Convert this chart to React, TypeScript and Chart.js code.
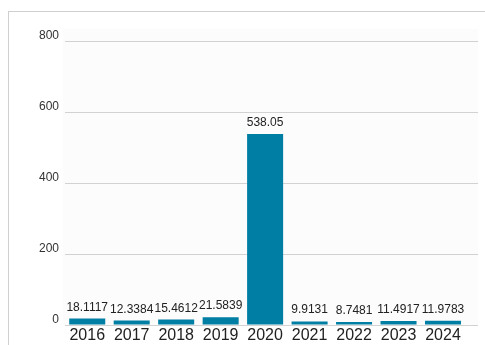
import React, { useEffect, useRef } from "react";
import { Chart, registerables } from "chart.js";

Chart.register(...registerables);

const years: string[] = ["2016", "2017", "2018", "2019", "2020", "2021", "2022", "2023", "2024"];
const values: number[] = [18.1117, 12.3384, 15.4612, 21.5839, 538.05, 9.9131, 8.7481, 11.4917, 11.9783];
const yTicks: number[] = [0, 200, 400, 600, 800];

const FONT = "'Liberation Sans', Arial, sans-serif";

const plotBg = {
  id: "plotBg",
  beforeDraw(chart: any) {
    const { ctx, chartArea } = chart;
    ctx.save();
    ctx.fillStyle = "#fcfcfc";
    ctx.fillRect(chartArea.left - 2, chartArea.top - 12, chartArea.right - chartArea.left + 2, chartArea.bottom - chartArea.top + 12);
    ctx.restore();
  },
};

const valueLabels = {
  id: "valueLabels",
  afterDatasetsDraw(chart: any) {
    const { ctx } = chart;
    const meta = chart.getDatasetMeta(0);
    ctx.save();
    ctx.font = `12px ${FONT}`;
    ctx.fillStyle = "#222";
    ctx.textAlign = "center";
    ctx.textBaseline = "alphabetic";
    meta.data.forEach((bar: any, i: number) => {
      ctx.fillText(String(values[i]), bar.x, bar.y - 8);
    });
    ctx.restore();
  },
};

export default function App() {
  const ref = useRef<HTMLCanvasElement | null>(null);
  useEffect(() => {
    if (!ref.current) return;
    const chart = new Chart(ref.current, {
      type: "bar",
      data: {
        datasets: [
          {
            data: values.map((v, i) => ({ x: i, y: v })),
            backgroundColor: "#007ea3",
            borderWidth: 0,
            categoryPercentage: 0.81,
            barPercentage: 1,
          },
        ],
      },
      options: {
        responsive: false,
        animation: false,
        layout: { padding: { top: 29, right: 7, left: 0, bottom: 0 } },
        plugins: { legend: { display: false }, tooltip: { enabled: false } },
        scales: {
          x: {
            type: "linear",
            offset: false,
            min: -0.5,
            max: 8.787,
            grid: { display: false, drawTicks: false },
            border: { display: false },
            afterBuildTicks: (scale: any) => {
              scale.ticks = years.map((_, i) => ({ value: i }));
            },
            afterFit: (scale: any) => {
              scale.height = 20;
            },
            ticks: {
              autoSkip: false,
              maxRotation: 0,
              padding: 1,
              color: "#222",
              font: { size: 16, family: FONT },
              callback: (v: any) => (Number.isInteger(v) && years[v] ? years[v] : ""),
            },
          },
          y: {
            min: 0,
            max: 800,
            afterBuildTicks: (scale: any) => {
              scale.ticks = yTicks.map((v) => ({ value: v }));
            },
            afterFit: (scale: any) => {
              scale.width = 56;
            },
            grid: { color: "#d2d2d2", drawTicks: false, lineWidth: 1 },
            border: { display: false },
            ticks: {
              padding: 6,
              labelOffset: -5,
              color: "#333",
              font: { size: 12, family: FONT },
            },
          },
        },
      },
      plugins: [plotBg, valueLabels],
    });
    return () => chart.destroy();
  }, []);

  return (
    <div
      style={{
        position: "absolute",
        left: 8,
        top: 11,
        width: 500,
        height: 360,
        border: "1px solid #cfcfcf",
        background: "#fff",
      }}
    >
      <canvas ref={ref} width={476} height={333} style={{ display: "block", width: 476, height: 333 }} />
    </div>
  );
}
